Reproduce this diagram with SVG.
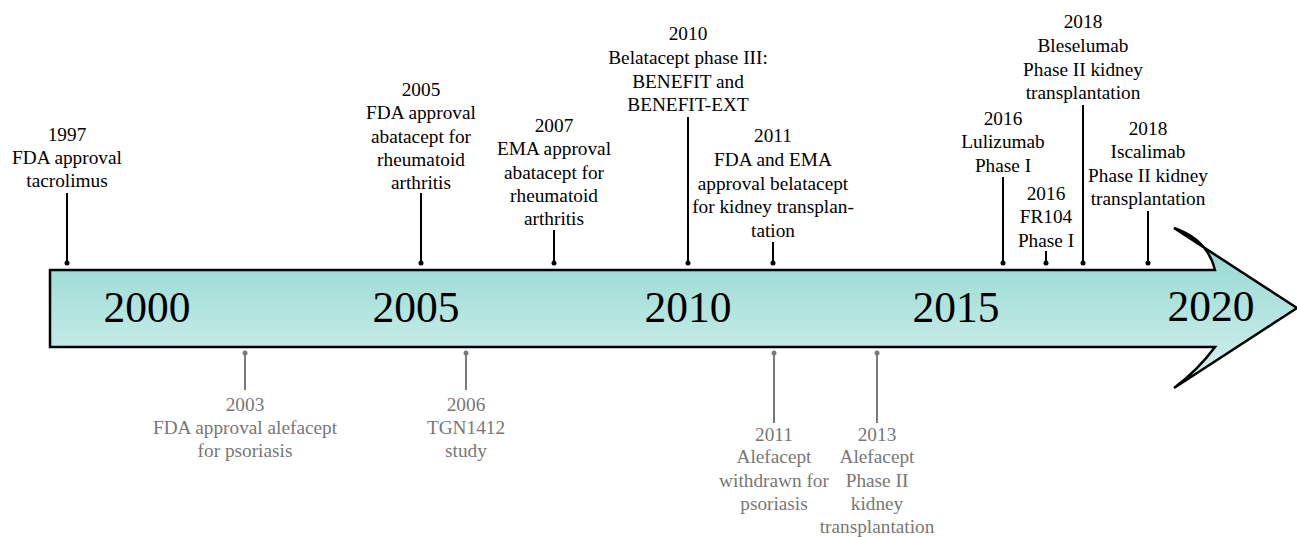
<svg xmlns="http://www.w3.org/2000/svg" width="1297" height="537" viewBox="0 0 1297 537">
<defs>
<linearGradient id="g" x1="0" y1="0" x2="0" y2="1">
<stop offset="0" stop-color="#8cd5cd"/>
<stop offset="1" stop-color="#d7f2f0"/>
</linearGradient>
<style>
.lbl{font-family:"Liberation Serif","Times New Roman",serif;font-size:19.3px;text-anchor:middle;fill:#000}
.gl{fill:#777}
.yr{font-family:"Liberation Serif","Times New Roman",serif;font-size:43.5px;text-anchor:middle;fill:#000}
.c{stroke:#000;stroke-width:2;fill:none}
.cg{stroke:#7a7a7a;stroke-width:2;fill:none}
.d{fill:#000}
.dg{fill:#7a7a7a}
</style>
</defs>
<rect width="1297" height="537" fill="#fff"/>
<g id="arrow">
<path d="M50,270 L1215,270 Q1208,240 1174,228 L1297,308 L1174,388 Q1198,370 1215,347 L50,347 Z" fill="url(#g)" stroke="#000" stroke-width="2.5" stroke-linejoin="miter"/>
<text class="yr" x="147" y="322">2000</text>
<text class="yr" x="416" y="322">2005</text>
<text class="yr" x="688" y="322">2010</text>
<text class="yr" x="956" y="322">2015</text>
<text class="yr" x="1211" y="321">2020</text>
</g>
<g id="connectors">
<path class="c" d="M67,193V263M421,193V263M554,230V263M688,117V263M773,242V263M1003,177V263M1046,251V263M1083,105V263M1148,211V263"/>
<circle class="d" cx="67" cy="263" r="2.5"/><circle class="d" cx="421" cy="263" r="2.5"/><circle class="d" cx="554" cy="263" r="2.5"/><circle class="d" cx="688" cy="263" r="2.5"/><circle class="d" cx="773" cy="263" r="2.5"/><circle class="d" cx="1003" cy="263" r="2.5"/><circle class="d" cx="1046" cy="263" r="2.5"/><circle class="d" cx="1083" cy="263" r="2.5"/><circle class="d" cx="1148" cy="263" r="2.5"/>
<path class="cg" d="M245,353V390M466,353V390M774,353V423M877,353V423"/>
<circle class="dg" cx="245" cy="353" r="2.5"/><circle class="dg" cx="466" cy="353" r="2.5"/><circle class="dg" cx="774" cy="353" r="2.5"/><circle class="dg" cx="877" cy="353" r="2.5"/>
</g>
<g id="n1997"><text class="lbl" x="67" y="141">1997</text><text class="lbl" x="67" y="164">FDA approval</text><text class="lbl" x="67" y="187">tacrolimus</text></g>
<g id="n2005"><text class="lbl" x="421" y="96">2005</text><text class="lbl" x="421" y="119">FDA approval</text><text class="lbl" x="421" y="143">abatacept for</text><text class="lbl" x="421" y="166">rheumatoid</text><text class="lbl" x="421" y="189">arthritis</text></g>
<g id="n2007"><text class="lbl" x="554" y="132">2007</text><text class="lbl" x="554" y="155">EMA approval</text><text class="lbl" x="554" y="179">abatacept for</text><text class="lbl" x="554" y="202">rheumatoid</text><text class="lbl" x="554" y="225">arthritis</text></g>
<g id="n2010"><text class="lbl" x="688" y="40">2010</text><text class="lbl" x="688" y="64">Belatacept phase III:</text><text class="lbl" x="688" y="88">BENEFIT and</text><text class="lbl" x="688" y="111">BENEFIT-EXT</text></g>
<g id="n2011a"><text class="lbl" x="773" y="142">2011</text><text class="lbl" x="773" y="166">FDA and EMA</text><text class="lbl" x="773" y="190">approval belatacept</text><text class="lbl" x="773" y="213">for kidney transplan-</text><text class="lbl" x="773" y="237">tation</text></g>
<g id="n2016a"><text class="lbl" x="1003" y="125">2016</text><text class="lbl" x="1003" y="148">Lulizumab</text><text class="lbl" x="1003" y="172">Phase I</text></g>
<g id="n2016b"><text class="lbl" x="1046" y="200">2016</text><text class="lbl" x="1046" y="223">FR104</text><text class="lbl" x="1046" y="247">Phase I</text></g>
<g id="n2018a"><text class="lbl" x="1083" y="28">2018</text><text class="lbl" x="1083" y="52">Bleselumab</text><text class="lbl" x="1083" y="76">Phase II kidney</text><text class="lbl" x="1083" y="99">transplantation</text></g>
<g id="n2018b"><text class="lbl" x="1148" y="135">2018</text><text class="lbl" x="1148" y="158">Iscalimab</text><text class="lbl" x="1148" y="182">Phase II kidney</text><text class="lbl" x="1148" y="205">transplantation</text></g>
<g id="n2003"><text class="lbl gl" x="245" y="411">2003</text><text class="lbl gl" x="245" y="434">FDA approval alefacept</text><text class="lbl gl" x="245" y="457">for psoriasis</text></g>
<g id="n2006"><text class="lbl gl" x="466" y="411">2006</text><text class="lbl gl" x="466" y="434">TGN1412</text><text class="lbl gl" x="466" y="457">study</text></g>
<g id="n2011b"><text class="lbl gl" x="774" y="441">2011</text><text class="lbl gl" x="774" y="463">Alefacept</text><text class="lbl gl" x="774" y="487">withdrawn for</text><text class="lbl gl" x="774" y="510">psoriasis</text></g>
<g id="n2013"><text class="lbl gl" x="877" y="441">2013</text><text class="lbl gl" x="877" y="463">Alefacept</text><text class="lbl gl" x="877" y="487">Phase II</text><text class="lbl gl" x="877" y="510">kidney</text><text class="lbl gl" x="877" y="533">transplantation</text></g>
</svg>
